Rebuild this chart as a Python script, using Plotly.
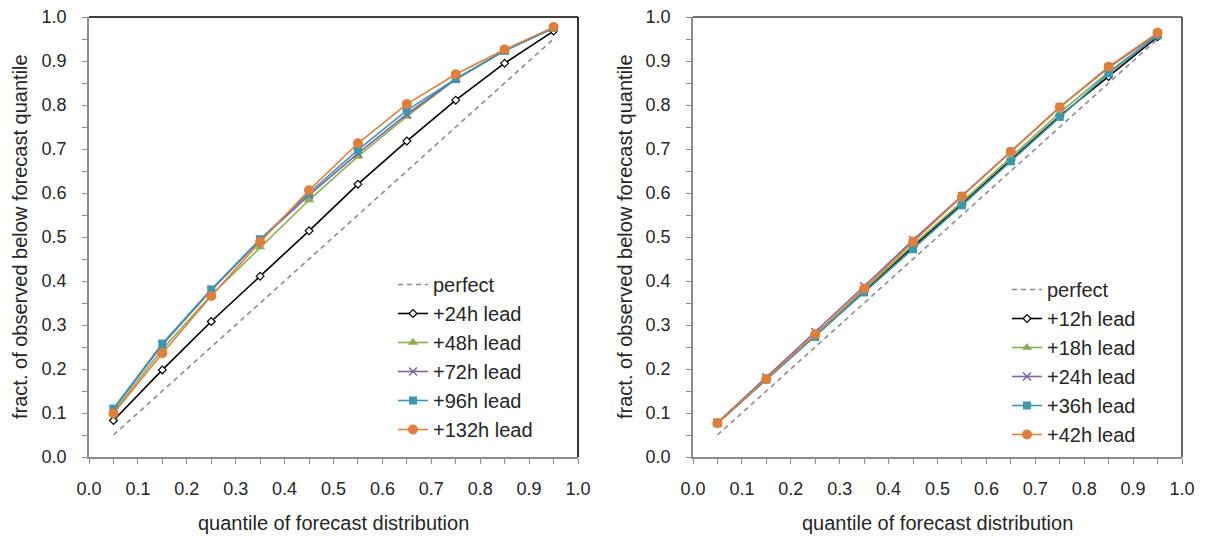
import plotly.graph_objects as go

quantiles = [0.05, 0.15, 0.25, 0.35, 0.45, 0.55, 0.65, 0.75, 0.85, 0.95]
perfect = [0.05, 0.15, 0.25, 0.35, 0.45, 0.55, 0.65, 0.75, 0.85, 0.95]

left_names = ["+24h lead", "+48h lead", "+72h lead", "+96h lead", "+132h lead"]
left_24 = [0.083, 0.198, 0.308, 0.411, 0.514, 0.620, 0.718, 0.811, 0.895, 0.968]
left_48 = [0.102, 0.245, 0.368, 0.477, 0.584, 0.683, 0.774, 0.858, 0.924, 0.975]
left_72 = [0.108, 0.255, 0.379, 0.493, 0.595, 0.690, 0.779, 0.859, 0.924, 0.975]
left_96 = [0.110, 0.258, 0.381, 0.495, 0.600, 0.698, 0.788, 0.859, 0.923, 0.975]
left_132 = [0.099, 0.236, 0.366, 0.489, 0.606, 0.713, 0.802, 0.870, 0.926, 0.977]

right_names = ["+12h lead", "+18h lead", "+24h lead", "+36h lead", "+42h lead"]
right_12 = [0.077, 0.176, 0.276, 0.377, 0.478, 0.575, 0.675, 0.775, 0.865, 0.955]
right_18 = [0.077, 0.177, 0.278, 0.380, 0.482, 0.580, 0.680, 0.782, 0.875, 0.959]
right_24 = [0.078, 0.181, 0.284, 0.388, 0.493, 0.593, 0.693, 0.795, 0.885, 0.962]
right_36 = [0.077, 0.176, 0.273, 0.374, 0.472, 0.572, 0.672, 0.773, 0.872, 0.958]
right_42 = [0.077, 0.177, 0.279, 0.383, 0.489, 0.592, 0.694, 0.795, 0.887, 0.964]

x_ticks = [0.0, 0.1, 0.2, 0.3, 0.4, 0.5, 0.6, 0.7, 0.8, 0.9, 1.0]
x_title = "quantile of forecast distribution"
y_title = "fract. of observed below forecast quantile"

colors = ["#000000", "#8AAE4F", "#7E62A8", "#3A98B1", "#E07E3C"]
symbols = ["diamond", "triangle-up", "x-thin-open", "square", "circle"]
sizes = [6, 9, 8, 8, 10]

FONT = "Liberation Sans, Arial, sans-serif"
TXT = "#262626"

fig = go.Figure()

def add_panel(series, names, xa, ya, legend):
    fig.add_trace(go.Scatter(x=quantiles, y=perfect, mode="lines", name="perfect",
                             line=dict(color="#8c8c8c", width=1.6, dash="5px,4px"),
                             xaxis=xa, yaxis=ya, legend=legend))
    for i, (vals, nm) in enumerate(zip(series, names)):
        if symbols[i] == "diamond":
            mk = dict(symbol="diamond", size=sizes[i], color="white",
                      line=dict(color="black", width=1.2))
        elif symbols[i] == "x-thin-open":
            mk = dict(symbol="x-thin-open", size=sizes[i], color=colors[i],
                      line=dict(color=colors[i], width=1.5))
        else:
            mk = dict(symbol=symbols[i], size=sizes[i], color=colors[i],
                      line=dict(width=0))
        fig.add_trace(go.Scatter(x=quantiles, y=vals, mode="lines+markers", name=nm,
                                 line=dict(color=colors[i], width=1.6), marker=mk,
                                 xaxis=xa, yaxis=ya, legend=legend))

add_panel([left_24, left_48, left_72, left_96, left_132], left_names, "x", "y", "legend")
add_panel([right_12, right_18, right_24, right_36, right_42], right_names, "x2", "y2", "legend2")

W, H = 1214, 536
def px_x(p):
    return p / W
def px_y(p):
    return 1 - p / H

axis_common = dict(
    range=[0, 1], showgrid=False, zeroline=False, automargin=False,
    showline=True, linecolor="#8c8c8c", linewidth=1.5,
    ticks="outside", ticklen=5, tickcolor="#8c8c8c", tickwidth=1.2,
    tickvals=x_ticks, ticktext=["%.1f" % v for v in x_ticks],
    minor=dict(tickvals=[0.05, 0.15, 0.25, 0.35, 0.45, 0.55, 0.65, 0.75, 0.85, 0.95],
               ticks="outside", ticklen=5, tickcolor="#8c8c8c", tickwidth=1.2),
    tickfont=dict(family=FONT, size=18, color=TXT),
)

fig.update_layout(
    width=W, height=H, margin=dict(l=0, r=0, t=0, b=0),
    paper_bgcolor="white", plot_bgcolor="white",
    font=dict(family=FONT, color=TXT),
    xaxis=dict(domain=[px_x(89), px_x(578)], anchor="y", ticklabelstandoff=10, **axis_common),
    yaxis=dict(domain=[px_y(457), px_y(17)], anchor="x", ticklabelstandoff=12, **axis_common),
    xaxis2=dict(domain=[px_x(693), px_x(1182)], anchor="y2", ticklabelstandoff=10, **axis_common),
    yaxis2=dict(domain=[px_y(457), px_y(17)], anchor="x2", ticklabelstandoff=12, **axis_common),
    legend=dict(x=px_x(393), y=px_y(265), xanchor="left", yanchor="top",
                bgcolor="rgba(0,0,0,0)", font=dict(family=FONT, size=20, color=TXT),
                tracegroupgap=0, itemwidth=30),
    legend2=dict(x=px_x(1007), y=px_y(270), xanchor="left", yanchor="top",
                 bgcolor="rgba(0,0,0,0)", font=dict(family=FONT, size=20, color=TXT),
                 tracegroupgap=0, itemwidth=30),
    showlegend=True,
)

# top/right frame lines
for xr, yr, col in [("x domain", "y domain", "#000000"), ("x2 domain", "y2 domain", "#404040")]:
    fig.add_shape(type="line", xref=xr, yref=yr, x0=0, x1=1, y0=1, y1=1,
                  line=dict(color=col, width=1.6))
    fig.add_shape(type="line", xref=xr, yref=yr, x0=1, x1=1, y0=0, y1=1,
                  line=dict(color=col, width=1.6))

# axis titles
for cx in [(89 + 578) / 2, (693 + 1182) / 2]:
    fig.add_annotation(text=x_title, xref="paper", yref="paper", x=px_x(cx), y=px_y(523),
                       xanchor="center", yanchor="middle", showarrow=False,
                       font=dict(family=FONT, size=20, color=TXT))
for cx in [20, 625]:
    fig.add_annotation(text=y_title, xref="paper", yref="paper", x=px_x(cx), y=px_y(237),
                       xanchor="center", yanchor="middle", showarrow=False, textangle=-90,
                       font=dict(family=FONT, size=20, color=TXT))

fig.write_html("out.html")
